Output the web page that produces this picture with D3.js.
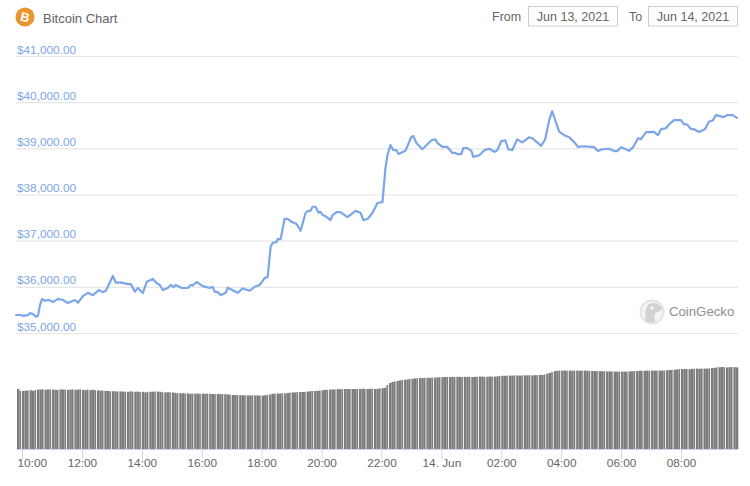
<!DOCTYPE html>
<html>
<head>
<meta charset="utf-8">
<script src="https://cdn.jsdelivr.net/npm/d3@7/dist/d3.min.js"></script>
<style>
html,body{margin:0;padding:0;background:#fff;}
svg{display:block;font-family:"Liberation Sans",Arial,sans-serif;}
</style>
</head>
<body>
<svg id="c" width="750" height="486"></svg>
<script>
// minutes relative to 10:00 on Jun 13
const priceMinutes = [-12,-4,4,12,16,22,28,32,36,40,46,54,62,72,82,92,106,112,122,132,142,154,162,168,182,188,200,212,218,226,232,242,250,262,270,276,282,292,298,304,308,320,332,338,342,350,362,376,382,386,392,398,408,412,432,442,456,466,476,486,492,498,502,510,512,518,526,532,540,550,558,568,572,578,582,588,594,598,602,608,618,622,630,638,652,668,678,684,692,702,712,722,728,732,738,744,750,754,768,780,784,790,802,820,828,832,842,852,862,868,872,880,884,892,900,904,916,926,936,946,952,960,968,974,982,992,1002,1016,1022,1040,1048,1056,1062,1070,1076,1086,1096,1106,1114,1126,1146,1154,1162,1176,1186,1192,1200,1216,1224,1234,1240,1250,1266,1274,1280,1290,1296,1306,1320,1326,1332,1340,1346,1356,1368,1376,1384,1390,1406,1412,1424,1432];
const prices = [35390,35390,35370,35390,35430,35410,35355,35370,35605,35735,35700,35715,35670,35740,35715,35650,35715,35655,35800,35870,35820,35930,35885,35915,36235,36090,36090,36060,36060,35895,35975,35865,36110,36170,36080,36040,35930,35975,36040,35995,36040,35975,35975,36040,36030,36105,36015,35975,36000,35895,35885,35820,35870,35980,35870,35965,35915,36000,36040,36190,36210,36870,36950,36975,37035,37035,37470,37470,37410,37360,37215,37600,37640,37650,37735,37735,37605,37625,37555,37530,37445,37555,37620,37620,37510,37645,37605,37445,37470,37600,37815,37835,38570,38850,39070,38960,38960,38875,38945,39250,39265,39115,38980,39175,39195,39120,39030,39030,38900,38900,38875,38875,39005,39005,38945,38815,38850,38960,38990,38925,38960,39155,39175,38980,38960,39195,39130,39240,39220,39055,39195,39610,39805,39545,39360,39285,39240,39135,39030,39045,39025,38940,38980,38990,38940,38940,39025,38945,39025,39220,39200,39350,39355,39285,39415,39435,39520,39610,39610,39520,39520,39415,39415,39355,39415,39575,39610,39720,39675,39720,39720,39660];
// one volume bar every five minutes, from the first minute of the price series (billions USD)
const volumes = [
30.0,29.0,29.0,29.2,29.3,29.4,29.1,29.5,29.7,29.8,29.8,29.6,
29.8,29.8,29.7,29.6,29.5,29.8,29.7,29.7,29.6,29.7,29.8,29.6,
29.7,29.8,29.6,29.4,29.7,29.5,29.6,29.4,29.3,29.2,29.2,29.1,
29.0,28.9,28.9,28.8,28.8,28.8,28.7,28.7,28.6,28.8,28.7,28.6,
28.7,28.5,28.6,28.3,28.6,28.6,28.7,28.7,28.7,28.6,28.4,28.3,
28.4,28.3,28.3,28.1,27.9,27.9,27.9,27.8,27.8,27.6,27.7,27.7,
27.7,27.6,27.7,27.6,27.7,27.6,27.5,27.5,27.5,27.4,27.5,27.4,
27.3,27.2,27.0,27.0,27.0,26.9,26.9,26.9,26.8,26.8,26.8,26.8,
26.8,26.7,26.7,26.9,27.1,27.3,27.6,27.7,27.7,27.8,27.8,27.8,
28.0,28.2,28.3,28.3,28.4,28.5,28.5,28.6,28.7,28.9,29.0,29.0,
29.1,29.2,29.4,29.6,29.6,29.7,29.8,29.8,29.9,29.9,29.9,30.0,
30.0,30.0,30.0,30.0,30.0,30.0,30.1,30.1,30.0,30.1,30.1,30.0,
30.1,30.3,30.4,30.6,32.0,33.0,33.5,33.8,34.0,34.3,34.5,34.6,
34.8,35.0,35.1,35.3,35.4,35.5,35.5,35.6,35.6,35.6,35.7,35.7,
35.8,35.9,35.9,36.0,36.0,36.0,36.1,36.0,36.1,36.1,36.0,36.1,
36.1,36.0,36.0,36.1,36.1,36.2,36.2,36.1,36.1,36.2,36.2,36.2,
36.3,36.5,36.6,36.6,36.7,36.7,36.7,36.8,36.8,36.7,36.8,36.8,
36.8,36.9,36.8,36.9,36.9,37.0,37.0,37.3,37.7,38.0,38.5,38.9,
39.1,39.2,39.2,39.2,39.2,39.2,39.1,39.2,39.2,39.1,39.2,39.2,
39.1,39.1,39.0,39.0,39.0,38.9,38.9,38.9,38.8,38.8,38.7,38.7,
38.7,38.7,38.7,38.7,38.7,38.8,38.9,39.0,39.0,39.1,39.1,39.1,
39.2,39.1,39.2,39.2,39.2,39.2,39.2,39.3,39.4,39.5,39.5,39.6,
39.8,39.9,40.0,40.0,40.0,39.9,40.1,40.1,40.2,40.1,40.2,40.2,
40.2,40.3,40.5,40.6,40.8,40.9,41.0,40.9,40.8,40.9,41.0,40.9,
40.8];
const priceTicks = [35000,36000,37000,38000,39000,40000,41000];
const timeTicks = [0,120,240,360,480,600,720,840,960,1080,1200,1320];
const timeLabels = ["10:00","12:00","14:00","16:00","18:00","20:00","22:00","14. Jun","02:00","04:00","06:00","08:00"];
const titleText = "Bitcoin Chart";
const fromDate = "Jun 13, 2021";
const toDate = "Jun 14, 2021";

const svg = d3.select("#c");
const left = 16, right = 738;
const x = d3.scaleLinear().domain([0,1320]).range([22,681]);
const y = d3.scaleLinear().domain([35000,41000]).range([333,56]);
const yVol = d3.scaleLinear().domain([0,50]).range([449,349]);

// header
svg.append("circle").attr("cx",25).attr("cy",17).attr("r",9.5).attr("fill","#E8952F");
svg.append("text").attr("x",25).attr("y",21.5).attr("text-anchor","middle")
  .attr("font-size",12.5).attr("font-weight",700).attr("fill","#fff").attr("transform","rotate(12 25 17)").text("B");
svg.append("text").attr("x",43).attr("y",22.5).attr("font-size",13).attr("fill","#5F6368").text(titleText);
const boxes = [{lab:"From",lx:492,bx:528.5,t:fromDate},{lab:"To",lx:629,bx:648.5,t:toDate}];
boxes.forEach(b=>{
  svg.append("text").attr("x",b.lx).attr("y",20.5).attr("font-size",12.5).attr("fill","#666").text(b.lab);
  svg.append("rect").attr("x",b.bx).attr("y",6.5).attr("width",89).attr("height",19.5)
    .attr("fill","#fff").attr("stroke","#ccc");
  svg.append("text").attr("x",b.bx+44.5).attr("y",20.5).attr("text-anchor","middle")
    .attr("font-size",12.5).attr("fill","#666").text(b.t);
});

// gridlines and price labels
const yAxis = d3.axisRight(y).tickValues(priceTicks).tickSize(right-left)
  .tickFormat(d=>"$"+d3.format(",.2f")(d));
const gy = svg.append("g").attr("transform",`translate(${left},0)`).call(yAxis);
gy.select(".domain").remove();
gy.selectAll("line").attr("stroke","#E6E6E6").attr("stroke-width",1.2);
gy.selectAll("text").attr("x",1).attr("dy",-3).attr("text-anchor","start")
  .attr("font-size",11.8).attr("fill","#7CA6E8").attr("font-family","Liberation Sans");

// watermark
const wm = svg.append("g").attr("transform","translate(652,312)");
wm.append("circle").attr("r",12.5).attr("fill","#E4E4E4");
wm.append("circle").attr("r",10.5).attr("fill","#F4F4F4");
wm.append("path").attr("d","M-6,10 C-8,0 -6,-9 1,-9 C6,-9 10,-5 10,-3 C8,0 4,0 3,2 C2,5 3,8 3,10 Z").attr("fill","#D2D2D2");
wm.append("circle").attr("cx",0).attr("cy",-4).attr("r",1.6).attr("fill","#fff");
svg.append("text").attr("x",669).attr("y",316).attr("font-size",13.2).attr("fill","#8E8E8E").text("CoinGecko");

// volume bars
const barStep = 5;
svg.append("g").selectAll("rect").data(volumes).join("rect")
  .attr("x",(d,i)=>x(priceMinutes[0]+i*barStep)+1)
  .attr("y",d=>yVol(d))
  .attr("width",(d,i)=>i%3===1?1.6:2.4)
  .attr("height",d=>yVol(0)-yVol(d))
  .attr("fill","#7C7C7C");

// x axis
const xAxis = d3.axisBottom(x).tickValues(timeTicks).tickSize(10).tickSizeOuter(0)
  .tickFormat((d,i)=>timeLabels[i]);
const gx = svg.append("g").attr("transform","translate(0,449)").call(xAxis);
gx.select(".domain").attr("d",`M${left},0.5H${right}`).attr("stroke","#CCD6EB");
gx.selectAll("line").attr("stroke","#CCD6EB");
gx.selectAll("text").attr("y",10).attr("dy","0.71em").attr("font-size",11.8).attr("fill","#666");
gx.selectAll(".tick").filter((d,i)=>i===0).select("text").attr("text-anchor","start").attr("x",left+1-x(timeTicks[0]));

// price line
const line = d3.line().x((d,i)=>x(priceMinutes[i])).y(d=>y(d)).curve(d3.curveLinear);
svg.append("path").attr("d",line(prices)).attr("fill","none").attr("stroke","#7CA6E8")
  .attr("stroke-width",2.2).attr("stroke-linejoin","round").attr("stroke-linecap","round");
</script>
</body>
</html>
